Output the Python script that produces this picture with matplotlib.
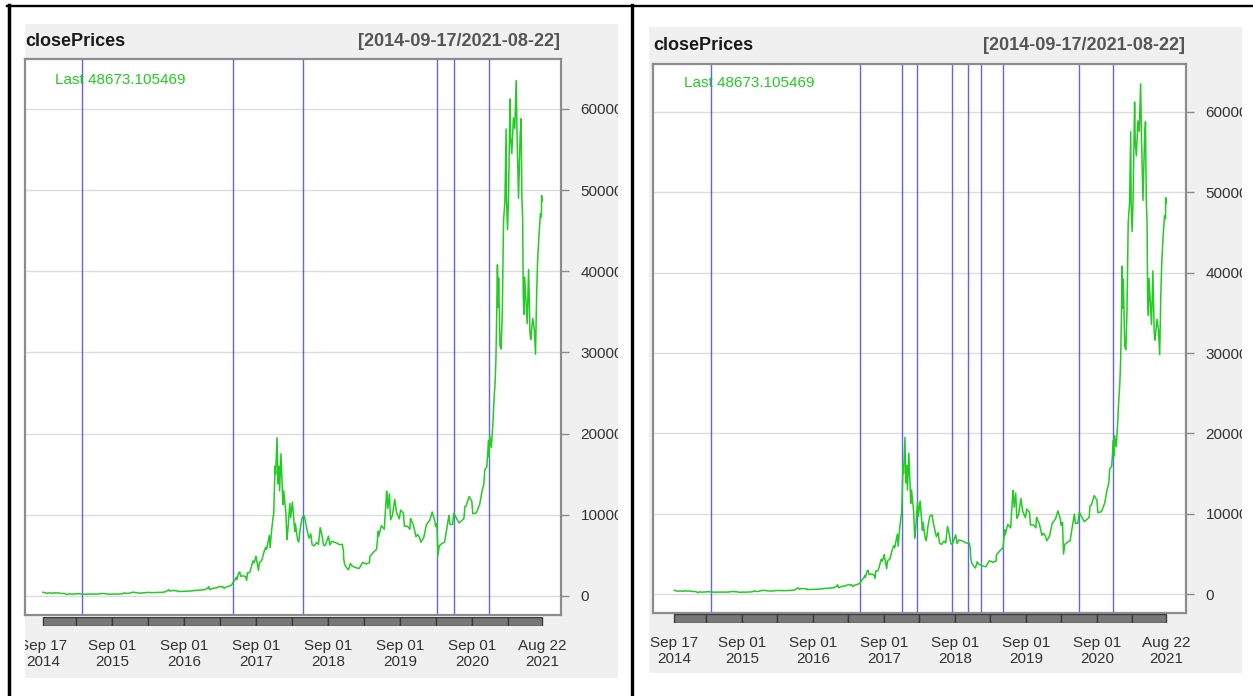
import matplotlib
matplotlib.use("Agg")
import matplotlib.pyplot as plt
import matplotlib.dates as mdates
from matplotlib.lines import Line2D
from matplotlib.patches import Rectangle
from matplotlib.transforms import Bbox, TransformedBbox
import numpy as np

plt.rcParams["font.family"] = ["Liberation Sans", "DejaVu Sans"]

W, H = 1253, 696
DPI = 100

SERIES_NAME = "closePrices"

# daily close (sampled), USD
close_dates = [
    "2014-09-17", "2014-09-22", "2014-09-30", "2014-10-05", "2014-10-12", "2014-10-20",
    "2014-10-31", "2014-11-05", "2014-11-12", "2014-11-20", "2014-11-30", "2014-12-08",
    "2014-12-18", "2014-12-31", "2015-01-07", "2015-01-14", "2015-01-20", "2015-01-26",
    "2015-02-05", "2015-02-15", "2015-02-28", "2015-03-10", "2015-03-20", "2015-03-31",
    "2015-04-14", "2015-04-30", "2015-05-15", "2015-05-31", "2015-06-15", "2015-06-30",
    "2015-07-12", "2015-07-31", "2015-08-18", "2015-08-31", "2015-09-15", "2015-09-30",
    "2015-10-15", "2015-10-31", "2015-11-04", "2015-11-11", "2015-11-25", "2015-12-15",
    "2015-12-31", "2016-01-15", "2016-01-31", "2016-02-15", "2016-02-29", "2016-03-31",
    "2016-04-30", "2016-05-15", "2016-05-31", "2016-06-16", "2016-06-22", "2016-06-30",
    "2016-07-15", "2016-07-31", "2016-08-02", "2016-08-31", "2016-09-30", "2016-10-15",
    "2016-10-31", "2016-11-15", "2016-11-30", "2016-12-15", "2016-12-31", "2017-01-04",
    "2017-01-11", "2017-01-20", "2017-01-31", "2017-02-15", "2017-02-28", "2017-03-10",
    "2017-03-16", "2017-03-24", "2017-03-31", "2017-04-15", "2017-04-30", "2017-05-10",
    "2017-05-20", "2017-05-25", "2017-05-27", "2017-06-06", "2017-06-11", "2017-06-15",
    "2017-06-30", "2017-07-10", "2017-07-16", "2017-07-20", "2017-07-31", "2017-08-05",
    "2017-08-17", "2017-08-22", "2017-08-31", "2017-09-01", "2017-09-14", "2017-09-18",
    "2017-09-30", "2017-10-12", "2017-10-20", "2017-10-25", "2017-10-31", "2017-11-08",
    "2017-11-12", "2017-11-20", "2017-11-28", "2017-11-30", "2017-12-07", "2017-12-10",
    "2017-12-17", "2017-12-22", "2017-12-26", "2017-12-30", "2018-01-06", "2018-01-10",
    "2018-01-16", "2018-01-20", "2018-01-31", "2018-02-05", "2018-02-10", "2018-02-20",
    "2018-02-24", "2018-03-05", "2018-03-17", "2018-03-20", "2018-03-31", "2018-04-06",
    "2018-04-14", "2018-04-24", "2018-05-05", "2018-05-15", "2018-05-28", "2018-06-06",
    "2018-06-13", "2018-06-24", "2018-07-06", "2018-07-15", "2018-07-24", "2018-08-01",
    "2018-08-10", "2018-08-14", "2018-08-20", "2018-09-04", "2018-09-11", "2018-09-21",
    "2018-10-10", "2018-10-31", "2018-11-13", "2018-11-19", "2018-11-20", "2018-11-25",
    "2018-12-07", "2018-12-15", "2018-12-24", "2018-12-31", "2019-01-10", "2019-01-28",
    "2019-02-07", "2019-02-24", "2019-03-15", "2019-03-31", "2019-04-02", "2019-04-23",
    "2019-05-06", "2019-05-14", "2019-05-17", "2019-05-30", "2019-06-14", "2019-06-26",
    "2019-06-28", "2019-07-02", "2019-07-10", "2019-07-16", "2019-07-25", "2019-08-06",
    "2019-08-15", "2019-08-29", "2019-09-05", "2019-09-19", "2019-09-24", "2019-10-10",
    "2019-10-22", "2019-10-25", "2019-10-31", "2019-11-08", "2019-11-22", "2019-11-30",
    "2019-12-10", "2019-12-17", "2019-12-31", "2020-01-14", "2020-01-31", "2020-02-12",
    "2020-02-25", "2020-02-29", "2020-03-07", "2020-03-12", "2020-03-19", "2020-03-31",
    "2020-04-15", "2020-04-29", "2020-05-07", "2020-05-12", "2020-05-25", "2020-06-01",
    "2020-06-10", "2020-06-27", "2020-07-10", "2020-07-22", "2020-07-27", "2020-08-02",
    "2020-08-17", "2020-08-31", "2020-09-05", "2020-09-23", "2020-10-10", "2020-10-21",
    "2020-10-31", "2020-11-05", "2020-11-15", "2020-11-24", "2020-11-26", "2020-11-30",
    "2020-12-08", "2020-12-16", "2020-12-20", "2020-12-27", "2020-12-31", "2021-01-03",
    "2021-01-08", "2021-01-11", "2021-01-14", "2021-01-21", "2021-01-27", "2021-02-02",
    "2021-02-08", "2021-02-15", "2021-02-21", "2021-02-23", "2021-02-28", "2021-03-05",
    "2021-03-13", "2021-03-16", "2021-03-22", "2021-03-30", "2021-04-06", "2021-04-13",
    "2021-04-18", "2021-04-25", "2021-05-03", "2021-05-08", "2021-05-12", "2021-05-16",
    "2021-05-19", "2021-05-23", "2021-05-26", "2021-06-01", "2021-06-08", "2021-06-15",
    "2021-06-22", "2021-06-26", "2021-07-06", "2021-07-14", "2021-07-20", "2021-07-26",
    "2021-07-31", "2021-08-07", "2021-08-14", "2021-08-19", "2021-08-20", "2021-08-22",
]
close_values = [
    457.3, 435.0, 386.9, 320.5, 378.5, 383.0,
    338.3, 339.5, 423.6, 357.8, 378.0, 363.0,
    310.0, 320.2, 294.0, 178.1, 211.0, 274.5,
    227.0, 234.8, 254.3, 291.6, 261.6, 244.2,
    219.2, 236.1, 237.0, 230.2, 237.0, 263.1,
    310.9, 284.6, 211.4, 230.1, 229.0, 236.1,
    255.0, 314.2, 403.0, 311.0, 328.0, 465.0,
    430.6, 375.0, 369.0, 400.0, 437.7, 416.7,
    448.3, 457.0, 531.4, 766.3, 596.0, 673.3,
    665.0, 624.7, 547.5, 573.9, 609.7, 638.0,
    700.9, 711.0, 742.5, 779.0, 963.7, 1154.7,
    777.8, 895.0, 970.4, 1008.0, 1190.0, 1098.0,
    1172.0, 937.0, 1071.8, 1184.0, 1347.9, 1756.0,
    2052.0, 2304.0, 2052.0, 2870.0, 2958.0, 2442.0,
    2480.8, 2385.0, 1929.8, 2855.0, 2875.3, 3252.0,
    4331.0, 4085.0, 4703.4, 4892.0, 3154.9, 4100.0,
    4338.7, 5432.6, 5993.0, 5747.0, 6468.4, 7459.0,
    5950.0, 8200.0, 9888.0, 9946.0, 16007.0, 15000.0,
    19497.0, 13831.0, 15999.0, 12952.0, 17527.0, 14973.0,
    11282.0, 12950.0, 10221.0, 6955.0, 8129.0, 11403.0,
    9664.0, 11573.0, 7937.0, 8908.0, 6973.0, 6636.0,
    8355.0, 9698.0, 9858.0, 8500.0, 7120.0, 7653.0,
    6308.0, 6173.0, 6600.0, 6358.0, 8424.0, 7600.0,
    6316.0, 6188.0, 6317.0, 7366.0, 6291.0, 6734.0,
    6589.0, 6317.0, 6371.0, 5553.0, 4649.0, 3882.0,
    3419.0, 3236.0, 4014.0, 3742.0, 3600.0, 3433.0,
    3399.0, 4142.0, 3942.0, 4105.0, 4880.0, 5464.0,
    5750.0, 7994.0, 7363.0, 8665.0, 8230.0, 12900.0,
    12407.0, 10800.0, 12571.0, 9400.0, 9900.0, 11900.0,
    10300.0, 9500.0, 10570.0, 10200.0, 8600.0, 8590.0,
    8230.0, 9550.0, 9200.0, 8800.0, 7300.0, 7570.0,
    7200.0, 6640.0, 7193.0, 8813.0, 9350.0, 10350.0,
    9320.0, 8544.0, 8910.0, 4971.0, 6191.0, 6438.0,
    6640.0, 8800.0, 9950.0, 8820.0, 8800.0, 10200.0,
    9770.0, 9010.0, 9270.0, 9540.0, 11030.0, 11060.0,
    12250.0, 11680.0, 10130.0, 10240.0, 11300.0, 12820.0,
    13800.0, 15560.0, 15900.0, 19150.0, 17140.0, 19700.0,
    18320.0, 21310.0, 23480.0, 26270.0, 28950.0, 32780.0,
    40800.0, 35570.0, 39190.0, 30830.0, 30430.0, 35500.0,
    46200.0, 48700.0, 57540.0, 48820.0, 45140.0, 48900.0,
    61240.0, 56450.0, 54530.0, 58900.0, 57600.0, 63500.0,
    56200.0, 49000.0, 56600.0, 58800.0, 49150.0, 46400.0,
    37000.0, 34700.0, 39300.0, 36700.0, 33560.0, 40220.0,
    32500.0, 31600.0, 34200.0, 32820.0, 29800.0, 37300.0,
    41460.0, 44600.0, 47100.0, 46700.0, 49340.0, 48673.105469,
]

# structural break dates found by each method
breaks_left = ["2015-04-03", "2017-05-07", "2018-04-27",
               "2020-03-07", "2020-06-01", "2020-11-26"]
breaks_right = ["2015-03-25", "2017-04-30", "2017-12-02", "2018-02-17",
                "2018-08-16", "2018-11-06", "2019-01-12", "2019-05-06",
                "2020-05-31", "2020-11-22"]

axis_label_dates = ["2014-09-17", "2015-09-01", "2016-09-01", "2017-09-01",
                    "2018-09-01", "2019-09-01", "2020-09-01", "2021-08-22"]
axis_labels = ["Sep 17\n2014", "Sep 01\n2015", "Sep 01\n2016", "Sep 01\n2017",
               "Sep 01\n2018", "Sep 01\n2019", "Sep 01\n2020", "Aug 22\n2021"]
band_edges = ["2014-09-17", "2015-03-01", "2015-09-01", "2016-03-01", "2016-09-01",
              "2017-03-01", "2017-09-01", "2018-03-01", "2018-09-01", "2019-03-01",
              "2019-09-01", "2020-03-01", "2020-09-01", "2021-03-01", "2021-08-22"]
y_ticks = [0, 10000, 20000, 30000, 40000, 50000, 60000]

GREEN = "#22cc22"
BLUE = "#3a3aff"
PANEL_BG = "#f0f0f0"
FRAME = "#8c8c8c"

# pixel geometry of the two chart panels (x0, y0, x1, y1 from top-left)
PANELS = [
    dict(bg=(25, 24, 618, 678), plot=(25, 59, 561, 615), bar=(617, 626),
         title=(25, 42), rng=(560, 42), last=(55, 80),
         xpad=(-91.3, 96.4), ylim=(-2341, 66160), breaks=breaks_left),
    dict(bg=(649, 27, 1242, 673), plot=(653, 64, 1186, 613), bar=(614, 623),
         title=(653, 46), rng=(1185, 46), last=(684, 83),
         xpad=(-109.6, 102.5), ylim=(-2365, 65975), breaks=breaks_right),
]


def fig_rect(x0, y0, x1, y1):
    return [x0 / W, 1 - y1 / H, (x1 - x0) / W, (y1 - y0) / H]


def draw_panel(fig, g):
    bx0, by0, bx1, by1 = g["bg"]
    fig.add_artist(Rectangle((bx0 / W, 1 - by1 / H), (bx1 - bx0) / W, (by1 - by0) / H,
                             transform=fig.transFigure, facecolor=PANEL_BG,
                             edgecolor="none", zorder=-1))
    clip = TransformedBbox(Bbox.from_extents(bx0 / W, 1 - by1 / H, bx1 / W, 1 - by0 / H),
                           fig.transFigure)

    x = mdates.datestr2num(close_dates)
    ax = fig.add_axes(fig_rect(*g["plot"]))
    ax.plot(x, close_values, color=GREEN, lw=1.1, zorder=3)
    for d in g["breaks"]:
        ax.axvline(mdates.datestr2num(d), color=BLUE, lw=1.0, alpha=0.8, zorder=2)
    ax.set_xlim(x[0] + g["xpad"][0], x[-1] + g["xpad"][1])
    ax.set_ylim(*g["ylim"])
    ax.set_xticks([])
    ax.set_yticks(y_ticks)
    ax.set_yticklabels([str(v) for v in y_ticks])
    ax.yaxis.tick_right()
    ax.tick_params(axis="y", length=6, width=1, color=FRAME, labelsize=11,
                   labelcolor="#333333", pad=8)
    ax.yaxis.grid(True, color="#dcdcdc", lw=1)
    ax.set_axisbelow(True)
    for s in ax.spines.values():
        s.set_color(FRAME)
        s.set_linewidth(1.6)
    for t in ax.yaxis.get_major_ticks():
        t.label2.set_clip_box(clip)
        t.label2.set_clip_on(True)

    # time-axis band under the plot
    tb = fig.add_axes(fig_rect(g["plot"][0], g["bar"][0], g["plot"][2], g["bar"][1]))
    edges = mdates.datestr2num(band_edges)
    tb.bar(edges[:-1], np.ones(len(edges) - 1), width=np.diff(edges), align="edge",
           color="#777777", edgecolor="#3c3c3c", linewidth=1.0)
    tb.set_xlim(ax.get_xlim())
    tb.set_ylim(0, 1)
    tb.set_facecolor("none")
    for s in tb.spines.values():
        s.set_visible(False)
    tb.set_yticks([])
    tb.set_xticks(mdates.datestr2num(axis_label_dates))
    tb.set_xticklabels(axis_labels, linespacing=1.2)
    tb.tick_params(axis="x", length=0, labelsize=11, labelcolor="#333333", pad=9.5)
    for t in tb.xaxis.get_major_ticks():
        t.label1.set_clip_box(clip)
        t.label1.set_clip_on(True)

    fig.text(g["title"][0] / W, 1 - g["title"][1] / H, SERIES_NAME, fontsize=13,
             fontweight="bold", color="#1a1a1a", ha="left", va="center")
    fig.text(g["rng"][0] / W, 1 - g["rng"][1] / H,
             f"[{close_dates[0]}/{close_dates[-1]}]", fontsize=13,
             fontweight="bold", color="#555555", ha="right", va="center")
    fig.text(g["last"][0] / W, 1 - g["last"][1] / H,
             f"Last {close_values[-1]:.6f}", fontsize=11, color=GREEN,
             ha="left", va="center")


fig = plt.figure(figsize=(W / DPI, H / DPI), dpi=DPI, facecolor="white")
for g in PANELS:
    draw_panel(fig, g)

# outer frame and divider
fig.add_artist(Line2D([7 / W, 1], [1 - 6 / H] * 2, color="black", lw=1.7))
fig.add_artist(Line2D([9 / W] * 2, [0, 1 - 5 / H], color="black", lw=2.5))
fig.add_artist(Line2D([632 / W] * 2, [0, 1 - 5 / H], color="black", lw=2.4))

fig.savefig("out.png", dpi=DPI)
plt.close(fig)
